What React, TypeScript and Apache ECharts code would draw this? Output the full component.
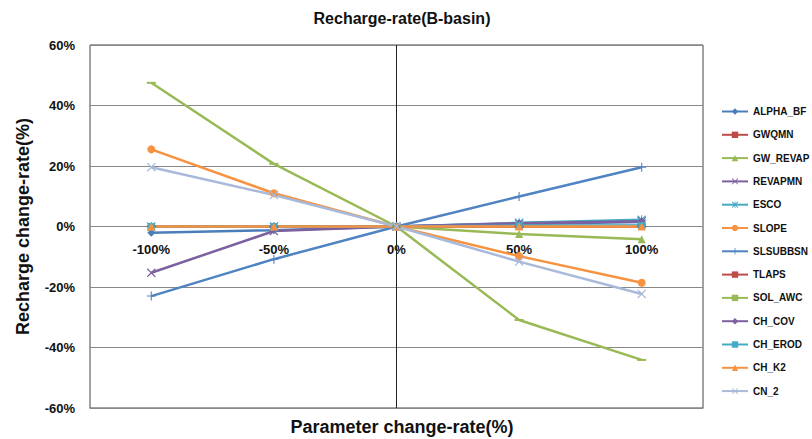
import React, { useEffect, useRef } from "react";
import * as echarts from "echarts";

const categories = ["-100%", "-50%", "0%", "50%", "100%"];
const yTicks = { min: -60, max: 60, interval: 20 };

const seriesNames = [
  "ALPHA_BF", "GWQMN", "GW_REVAP", "REVAPMN", "ESCO", "SLOPE", "SLSUBBSN",
  "TLAPS", "SOL_AWC", "CH_COV", "CH_EROD", "CH_K2", "CN_2",
];

const alphaBf = [-2.1, -1.2, 0, 0.8, 1.5];
const gwqmn = [0, 0, 0, 0.1, 0.2];
const gwRevap = [0, 0, 0, -2.5, -4.2];
const revapmn = [-15.3, -1.5, 0, 1.0, 1.8];
const esco = [0, 0, 0, 1.2, 2.2];
const slope = [25.5, 11.0, 0, -9.8, -18.6];
const slsubbsn = [-23.0, -10.8, 0, 9.9, 19.6];
const tlaps = [0, 0, 0, 0, 0];
const solAwc = [47.5, 20.7, 0, -30.9, -44.1];
const chCov = [0, 0, 0, 1.1, 1.7];
const chErod = [0, 0, 0, 0.3, 0.3];
const chK2 = [0, 0, 0, 0, 0];
const cn2 = [19.6, 10.4, 0, -11.6, -22.3];

const seriesData = [alphaBf, gwqmn, gwRevap, revapmn, esco, slope, slsubbsn, tlaps, solAwc, chCov, chErod, chK2, cn2];

const X_PATH = "path://M0,1 L1,0 L5,4 L9,0 L10,1 L6,5 L10,9 L9,10 L5,6 L1,10 L0,9 L4,5 Z";
const PLUS_PATH = "path://M4.4,0 H5.6 V4.4 H10 V5.6 H5.6 V10 H4.4 V5.6 H0 V4.4 H4.4 Z";
const STAR_PATH = "path://M0,1 L1,0 L5,4 L9,0 L10,1 L6,5 L10,9 L9,10 L5,6 L1,10 L0,9 L4,5 Z M4.4,0 H5.6 V10 H4.4 Z M0,4.4 H10 V5.6 H0 Z";
const DASH_PATH = "path://M0,0 H10 V2.5 H0 Z";

const styles = [
  { color: "#4A7EBB", symbol: "diamond", size: 8 },
  { color: "#BE4B48", symbol: "rect", size: 7 },
  { color: "#98B954", symbol: "triangle", size: 8 },
  { color: "#7D60A0", symbol: X_PATH, size: 9 },
  { color: "#46AAC5", symbol: STAR_PATH, size: 9 },
  { color: "#F69240", symbol: "circle", size: 8 },
  { color: "#4F83C2", symbol: PLUS_PATH, size: 9 },
  { color: "#BE4B48", symbol: DASH_PATH, size: [9, 2] },
  { color: "#98B954", symbol: DASH_PATH, size: [9, 2] },
  { color: "#7D60A0", symbol: "diamond", size: 8 },
  { color: "#46AAC5", symbol: "rect", size: 7 },
  { color: "#F69240", symbol: "triangle", size: 8 },
  { color: "#A8B9DA", symbol: X_PATH, size: 9 },
];

const FONT = "'Liberation Sans', Arial, sans-serif";

export default function App() {
  const ref = useRef<HTMLDivElement>(null);
  useEffect(() => {
    if (!ref.current) return;
    const chart = echarts.init(ref.current, null, { renderer: "svg" });
    const series: any[] = seriesNames.map((name, i) => ({
      name,
      type: "line",
      data: seriesData[i],
      symbol: styles[i].symbol,
      symbolSize: styles[i].size,
      showAllSymbol: true,
      lineStyle: { color: styles[i].color, width: 2.5 },
      itemStyle: { color: styles[i].color },
      z: 3,
    }));
    series[0].markLine = {
      silent: true,
      symbol: "none",
      label: { show: false },
      lineStyle: { color: "#222", width: 1, type: "solid" },
      data: [{ xAxis: "0%" }],
      z: 1,
    };
    chart.setOption({
      animation: false,
      backgroundColor: "#fff",
      textStyle: { fontFamily: FONT },
      title: [
        {
          text: "Recharge-rate(B-basin)",
          left: 397,
          textAlign: "center",
          top: 5,
          textStyle: { fontSize: 16, fontWeight: "bold", color: "#111", fontFamily: FONT },
        },
        {
          text: "Parameter change-rate(%)",
          left: 397,
          textAlign: "center",
          top: 413,
          textStyle: { fontSize: 18, fontWeight: "bold", color: "#111", fontFamily: FONT },
        },
      ],
      legend: {
        orient: "vertical",
        left: 721,
        top: 106,
        padding: 0,
        itemWidth: 26,
        itemHeight: 8,
        itemGap: 12.3,
        data: seriesNames,
        textStyle: { fontSize: 10, lineHeight: 11, fontWeight: "bold", color: "#111", fontFamily: FONT },
      },
      grid: {
        left: 90,
        right: 109,
        top: 45,
        bottom: 31,
        show: true,
        borderColor: "#444",
        borderWidth: 1,
      },
      xAxis: {
        type: "category",
        data: categories,
        boundaryGap: true,
        axisLine: { onZero: false, lineStyle: { color: "#888", width: 1 } },
        axisTick: { show: false },
        axisLabel: { fontSize: 13, fontWeight: "bold", color: "#111", margin: -165, fontFamily: FONT },
        splitLine: { show: false },
      },
      yAxis: {
        type: "value",
        min: yTicks.min,
        max: yTicks.max,
        interval: yTicks.interval,
        name: "Recharge change-rate(%)",
        nameLocation: "middle",
        nameGap: 58,
        nameTextStyle: { fontSize: 18, fontWeight: "bold", color: "#111", fontFamily: FONT },
        axisLine: { show: false },
        axisTick: { show: false },
        axisLabel: { fontSize: 13, fontWeight: "bold", color: "#111", margin: 15, formatter: (v: number) => `${v}%`, fontFamily: FONT },
        splitLine: { lineStyle: { color: "#888", width: 1 } },
      },
      series,
    });
    return () => chart.dispose();
  }, []);
  return <div ref={ref} style={{ position: "fixed", left: 0, top: 0, width: 812, height: 439 }} />;
}
